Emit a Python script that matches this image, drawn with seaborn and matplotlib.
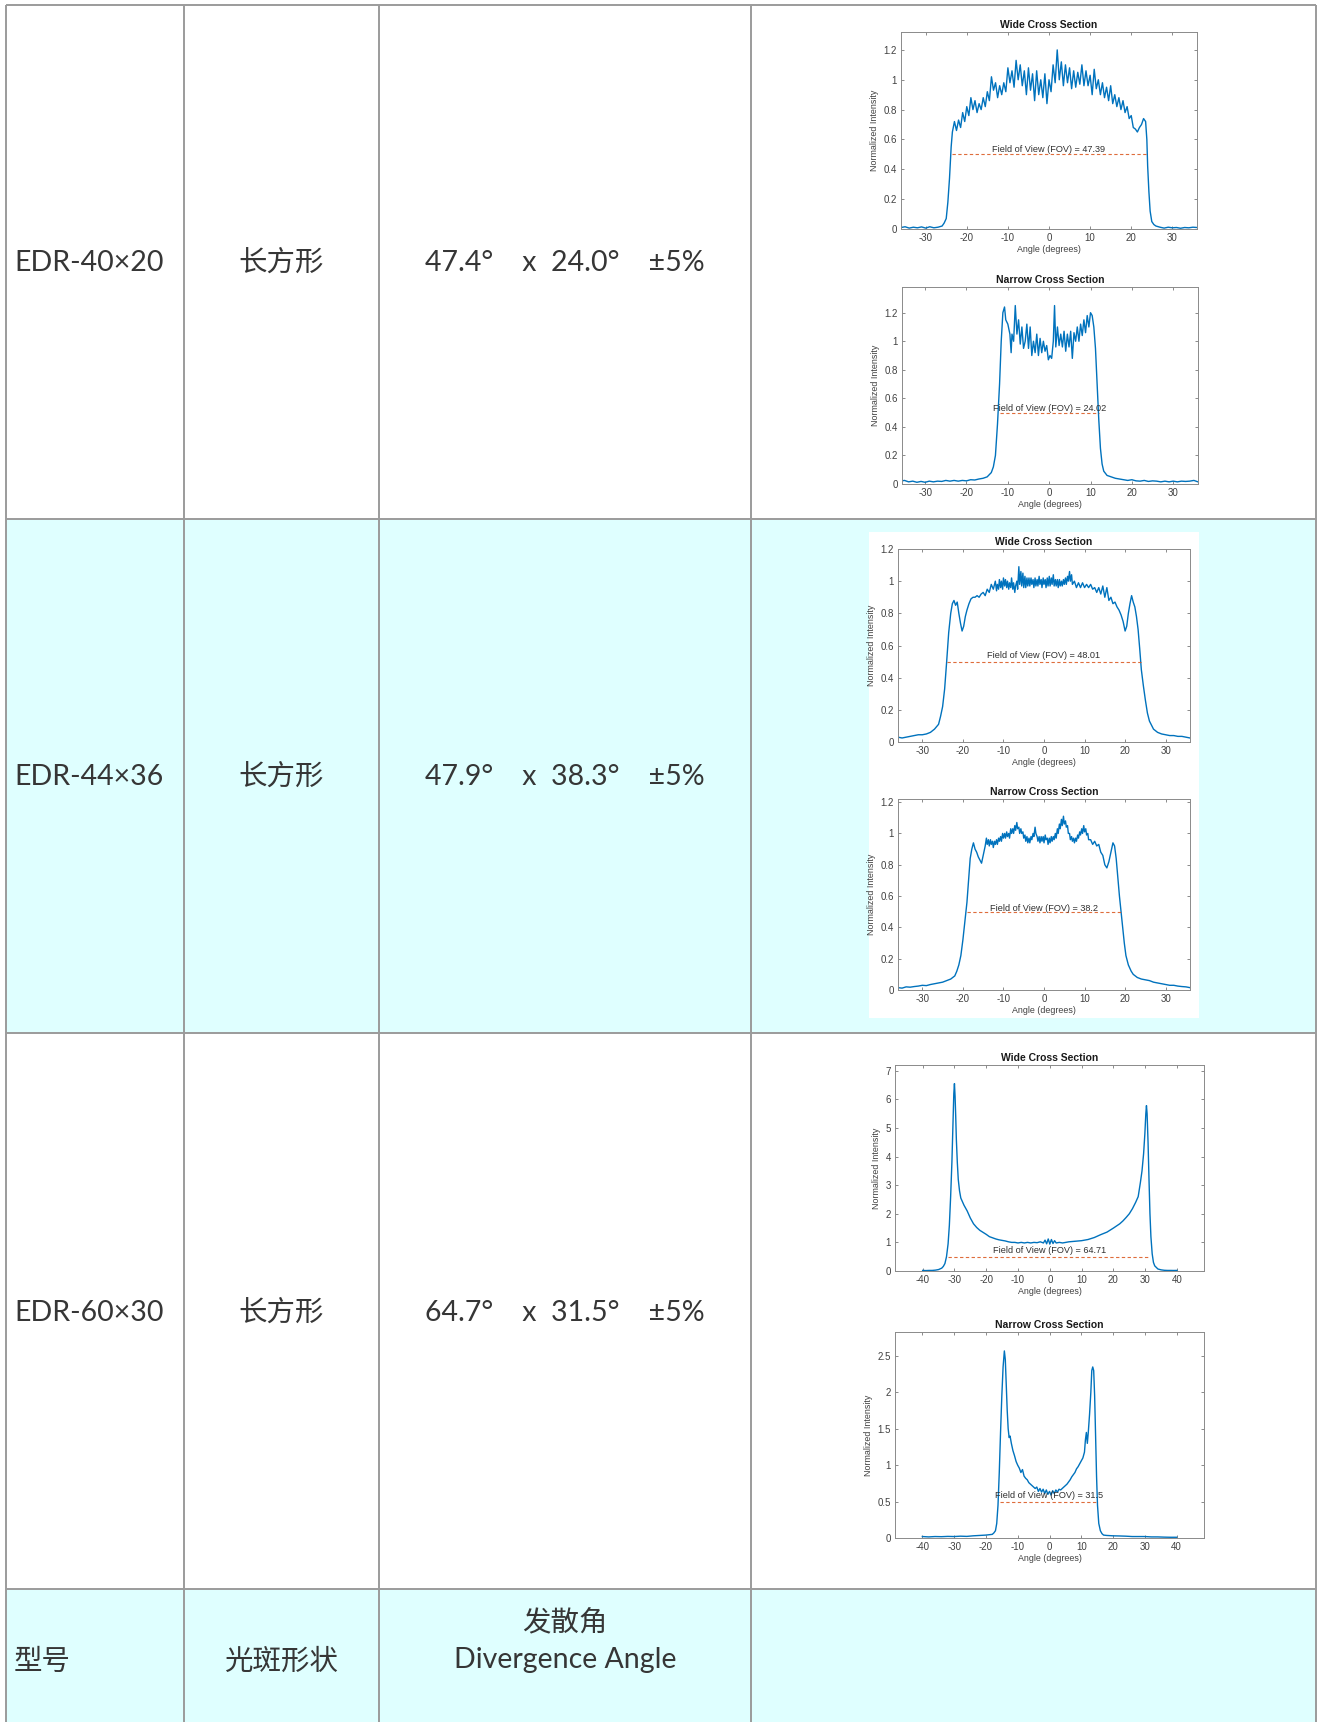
import matplotlib
matplotlib.use("Agg")
import matplotlib.pyplot as plt
from matplotlib.patches import Rectangle
from matplotlib.ticker import FuncFormatter
import seaborn as sns

# table text
models = ["EDR-40×20", "EDR-44×36", "EDR-60×30"]
shapes = ["长方形", "长方形", "长方形"]
angles = ["47.4°    x  24.0°    ±5%", "47.9°    x  38.3°    ±5%", "64.7°    x  31.5°    ±5%"]
header = ["型号", "光斑形状", "发散角", "Divergence Angle"]

# plot annotations
titles = ["Wide Cross Section", "Narrow Cross Section"] * 3
fov_values = ["47.39", "24.02", "48.01", "38.2", "64.71", "31.5"]
fov_edges = [(-23.7, 23.7), (-12.0, 12.0), (-24.0, 23.9), (-19.0, 19.2), (-32.0, 31.3), (-15.7, 15.2)]

# profiles: (angle, normalized intensity)
wide_a = [(-36, .010), (-35, .015), (-34, .006), (-33, .012), (-32, .008), (-31, .014), (-30, .006), (-29, .015),
          (-28, .008), (-27, .012), (-26, .02), (-25.5, .04), (-25, .07), (-24.6, .18), (-24.2, .34), (-23.8, .55),
          (-23.5, .65), (-23, .72), (-22.5, .66), (-22, .73), (-21.5, .68), (-21, .78), (-20.5, .72), (-20, .82),
          (-19.5, .76), (-19, .88), (-18.5, .80), (-18, .86), (-17.5, .78), (-17, .84), (-16.5, .80), (-16, .88),
          (-15.5, .82), (-15, .92), (-14.5, .86), (-14, 1.02), (-13.5, .93), (-13, .98), (-12.5, .88), (-12, .96),
          (-11.5, .90), (-11, .98), (-10.5, .92), (-10, 1.08), (-9.5, .98), (-9, 1.06), (-8.5, .95), (-8, 1.13),
          (-7.5, 1.00), (-7, 1.10), (-6.5, .96), (-6, 1.06), (-5.5, .90), (-5, 1.08), (-4.5, .93), (-4, 1.04),
          (-3.5, .86), (-3, 1.06), (-2.5, .90), (-2, 1.00), (-1.5, .88), (-1, 1.04), (-0.5, .84), (0, 1.00),
          (0.5, .92), (1, 1.10), (1.5, .98), (2, 1.20), (2.5, 1.00), (3, 1.12), (3.5, .96), (4, 1.10), (4.5, .98),
          (5, 1.08), (5.5, .94), (6, 1.06), (6.5, .95), (7, 1.05), (7.5, .97), (8, 1.10), (8.5, .96), (9, 1.06),
          (9.5, .96), (10, 1.03), (10.5, .90), (11, 1.07), (11.5, .94), (12, 1.00), (12.5, .90), (13, .98),
          (13.5, .88), (14, .95), (14.5, .86), (15, .96), (15.5, .84), (16, .90), (16.5, .82), (17, .88),
          (17.5, .80), (18, .86), (18.5, .78), (19, .82), (19.5, .74), (20, .76), (20.5, .68), (21, .67),
          (21.5, .65), (22, .68), (22.5, .70), (23, .74), (23.5, .72), (23.8, .60), (24, .42), (24.3, .25),
          (24.6, .12), (25, .05), (25.5, .03), (26, .02), (27, .012), (28, .006), (29, .012), (30, .008),
          (31, .010), (32, .005), (33, .010), (34, .008), (35, .012), (36, .010)]

narrow_a = [(-36, .02), (-35, .025), (-34, .015), (-33, .02), (-32, .012), (-31, .018), (-30, .012), (-29, .02),
            (-28, .015), (-27, .02), (-26, .018), (-25, .025), (-24, .02), (-23, .025), (-22, .02), (-21, .025),
            (-20, .022), (-19, .03), (-18, .028), (-17, .035), (-16, .04), (-15, .05), (-14, .08), (-13.5, .12),
            (-13, .2), (-12.5, .42), (-12, .7), (-11.6, 1.0), (-11.2, 1.2), (-10.8, 1.24), (-10.5, 1.15),
            (-10, 1.12), (-9.5, 1.05), (-9.2, .92), (-9, 1.05), (-8.6, 1.0), (-8.2, 1.25), (-7.8, 1.05),
            (-7.4, 1.15), (-7, .98), (-6.6, 1.1), (-6.2, .95), (-5.8, 1.0), (-5.4, 1.12), (-5, .95), (-4.6, 1.1),
            (-4.2, .9), (-3.8, 1.0), (-3.4, .92), (-3, 1.05), (-2.6, .9), (-2.2, 1.02), (-1.8, .92), (-1.4, 1.0),
            (-1, .93), (-0.6, .97), (-0.2, .87), (0.2, .9), (0.6, .88), (1, 1.0), (1.3, 1.25), (1.6, .96),
            (2, 1.1), (2.4, .97), (2.8, 1.05), (3.2, .96), (3.6, 1.07), (4, .93), (4.4, 1.05), (4.8, .96),
            (5.2, 1.07), (5.6, .88), (6, 1.06), (6.4, 1.0), (6.8, 1.1), (7.2, 1.0), (7.6, 1.12), (8, 1.04),
            (8.4, 1.15), (8.8, 1.06), (9.2, 1.18), (9.6, 1.1), (10, 1.2), (10.4, 1.18), (10.8, 1.1), (11.2, .95),
            (11.6, .7), (12, .45), (12.4, .25), (12.8, .14), (13.2, .09), (14, .06), (15, .05), (16, .04),
            (17, .035), (18, .03), (19, .025), (20, .03), (21, .022), (22, .02), (23, .025), (24, .018),
            (25, .022), (26, .02), (27, .015), (28, .02), (29, .015), (30, .02), (31, .015), (32, .02),
            (33, .018), (34, .02), (35, .025), (36, .015)]

wide_b = [(-36, .03), (-35, .025), (-34, .03), (-33, .035), (-32, .04), (-31, .045), (-30, .045), (-29, .05),
          (-28, .06), (-27, .08), (-26, .11), (-25.5, .16), (-25, .22), (-24.5, .33), (-24, .5), (-23.5, .68),
          (-23, .8), (-22.6, .86), (-22.2, .88), (-21.8, .85), (-21.4, .87), (-21, .8), (-20.6, .74),
          (-20.2, .69), (-19.8, .72), (-19.4, .78), (-19, .82), (-18.5, .86), (-18, .89), (-17.5, .9), (-17, .9),
          (-16.5, .91), (-16, .9), (-15.5, .92), (-15, .93), (-14.5, .91), (-14, .95), (-13.5, .93), (-13, .98),
          (-12.5, .95), (-12, 1.0), (-11.7, .94), (-11.5, .98), (-11.2, .95), (-11, 1.01), (-10.7, .96),
          (-10.5, 1.0), (-10.2, .95), (-10, 1.02), (-9.7, .97), (-9.5, 1.01), (-9.2, .96), (-9, 1.0),
          (-8.7, .95), (-8.5, .99), (-8.2, .96), (-8, 1.02), (-7.7, .95), (-7.5, .99), (-7.2, .93), (-7, .97),
          (-6.7, 1.0), (-6.5, .95), (-6.2, 1.09), (-6, .98), (-5.7, 1.06), (-5.5, .97), (-5.2, 1.05),
          (-5, .96), (-4.7, 1.03), (-4.5, .96), (-4.2, 1.02), (-4, .97), (-3.7, 1.02), (-3.5, .97),
          (-3.2, 1.02), (-3, .98), (-2.7, 1.01), (-2.5, .96), (-2.2, 1.02), (-2, .97), (-1.7, 1.01),
          (-1.5, .97), (-1.2, 1.03), (-1, .98), (-0.7, 1.01), (-0.5, .96), (-0.2, 1.02), (0, .98), (0.3, 1.01),
          (0.5, .96), (0.8, 1.02), (1, .97), (1.3, 1.03), (1.5, .97), (1.8, 1.02), (2, .98), (2.3, 1.04),
          (2.5, .97), (2.8, 1.01), (3, .97), (3.3, 1.01), (3.5, .96), (3.8, 1.01), (4, .97), (4.3, 1.0),
          (4.5, .97), (4.8, 1.01), (5, .98), (5.3, 1.02), (5.5, .98), (5.8, 1.03), (6, 1.0), (6.3, 1.06),
          (6.5, 1.0), (6.8, 1.04), (7, .98), (7.5, 1.0), (8, .96), (8.5, .99), (9, .96), (9.5, .99),
          (10, .96), (10.5, .98), (11, .96), (11.5, .98), (12, .95), (12.5, .96), (13, .93), (13.5, .96),
          (14, .92), (14.5, .97), (15, .9), (15.5, .96), (16, .88), (16.5, .9), (17, .86), (17.5, .87),
          (18, .84), (18.5, .82), (19, .79), (19.5, .75), (20, .69), (20.4, .72), (20.8, .8), (21.2, .86),
          (21.6, .91), (22, .87), (22.4, .84), (22.8, .78), (23.2, .7), (23.6, .58), (24, .45), (24.5, .35),
          (25, .26), (25.5, .18), (26, .13), (27, .08), (28, .06), (29, .05), (30, .045), (31, .04), (32, .04),
          (33, .035), (34, .035), (35, .03), (36, .025)]

narrow_b = [(-36, .015), (-35, .012), (-34, .02), (-33, .018), (-32, .022), (-31, .025), (-30, .03), (-29, .028),
            (-28, .035), (-27, .04), (-26, .045), (-25, .05), (-24, .06), (-23, .07), (-22, .09), (-21.5, .12),
            (-21, .16), (-20.5, .22), (-20, .32), (-19.5, .44), (-19, .56), (-18.6, .7), (-18.2, .84),
            (-17.8, .9), (-17.4, .94), (-17, .9), (-16.6, .88), (-16.2, .85), (-15.8, .83), (-15.4, .81),
            (-15, .86), (-14.5, .92), (-14.2, .97), (-14, .93), (-13.7, .96), (-13.5, .92), (-13.2, .96),
            (-13, .93), (-12.7, .95), (-12.5, .91), (-12.2, .95), (-12, .93), (-11.7, .96), (-11.5, .93),
            (-11.2, .97), (-11, .95), (-10.7, .98), (-10.5, .95), (-10.2, 1.0), (-10, .97), (-9.7, 1.0),
            (-9.5, .97), (-9.2, 1.01), (-9, .98), (-8.7, 1.0), (-8.5, .97), (-8.2, 1.03), (-8, 1.0), (-7.7, 1.03),
            (-7.5, 1.0), (-7.2, 1.05), (-7, 1.02), (-6.7, 1.07), (-6.5, 1.03), (-6.2, 1.04), (-6, 1.0),
            (-5.7, 1.03), (-5.5, 1.0), (-5.2, 1.01), (-5, .97), (-4.7, .99), (-4.5, .95), (-4.2, .98),
            (-4, .94), (-3.7, .97), (-3.5, .94), (-3.2, .98), (-3, .96), (-2.7, 1.0), (-2.5, .98), (-2.2, 1.04),
            (-2, 1.0), (-1.7, .98), (-1.5, .95), (-1.2, .98), (-1, .94), (-0.7, .98), (-0.5, .95), (-0.2, .98),
            (0, .94), (0.3, .99), (0.5, .96), (0.8, .97), (1, .93), (1.3, .97), (1.5, .94), (1.8, .98), (2, .95),
            (2.3, .98), (2.5, .96), (2.8, 1.0), (3, .97), (3.3, 1.03), (3.5, 1.0), (3.8, 1.06), (4, 1.03),
            (4.3, 1.09), (4.5, 1.05), (4.8, 1.11), (5, 1.06), (5.3, 1.08), (5.5, 1.04), (5.8, 1.05), (6, 1.0),
            (6.3, 1.0), (6.5, .96), (6.8, .98), (7, .95), (7.3, .97), (7.5, .94), (7.8, .97), (8, .95),
            (8.3, .99), (8.5, .97), (8.8, 1.01), (9, .99), (9.3, 1.03), (9.5, 1.0), (9.8, 1.05), (10, 1.01),
            (10.3, 1.03), (10.5, .99), (10.8, 1.0), (11, .96), (11.5, .96), (12, .93), (12.5, .95), (13, .92),
            (13.5, .93), (14, .88), (14.5, .86), (15, .8), (15.5, .78), (16, .82), (16.5, .88), (17, .94),
            (17.4, .92), (17.8, .84), (18.2, .72), (18.6, .6), (19, .5), (19.4, .4), (19.8, .3), (20.2, .22),
            (20.8, .16), (21.5, .12), (22, .1), (23, .08), (24, .07), (25, .065), (26, .06), (27, .05),
            (28, .045), (29, .04), (30, .035), (31, .03), (32, .03), (33, .025), (34, .022), (35, .02), (36, .015)]

wide_c = [(-40, .02), (-39, .015), (-38, .02), (-37, .02), (-36, .03), (-35, .05), (-34, .1), (-33.5, .16),
          (-33, .26), (-32.5, .5), (-32, .95), (-31.6, 1.6), (-31.2, 2.6), (-30.8, 3.8), (-30.5, 5.0),
          (-30.2, 6.2), (-30, 6.55), (-29.8, 6.1), (-29.6, 5.4), (-29.4, 4.6), (-29.1, 3.8), (-28.8, 3.2),
          (-28.4, 2.8), (-28, 2.55), (-27, 2.3), (-26, 2.1), (-25, 1.85), (-24, 1.65), (-23, 1.52), (-22, 1.42),
          (-21, 1.35), (-20, 1.28), (-19, 1.2), (-18, 1.16), (-17, 1.12), (-16, 1.09), (-15, 1.07), (-14, 1.05),
          (-13, 1.02), (-12, 1.0), (-11, 1.0), (-10, .98), (-9, 1.0), (-8, .98), (-7, 1.0), (-6, .98), (-5, 1.0),
          (-4, .99), (-3, 1.02), (-2, .98), (-1.5, 1.08), (-1, .95), (-0.5, 1.12), (0, .94), (0.5, 1.1),
          (1, .96), (1.5, 1.06), (2, .98), (3, 1.0), (4, .98), (5, 1.0), (6, 1.02), (7, 1.03), (8, 1.04),
          (9, 1.05), (10, 1.06), (12, 1.1), (14, 1.17), (16, 1.27), (18, 1.36), (20, 1.5), (22, 1.65),
          (23, 1.75), (24, 1.87), (25, 2.0), (26, 2.18), (27, 2.4), (27.8, 2.6), (28.5, 3.1), (29, 3.5),
          (29.5, 4.1), (29.9, 4.8), (30.2, 5.5), (30.4, 5.78), (30.6, 5.5), (30.9, 4.5), (31.2, 3.2),
          (31.5, 2.0), (31.8, 1.2), (32.2, .6), (32.6, .3), (33, .18), (34, .07), (35, .04), (36, .025),
          (37, .02), (38, .02), (39, .018), (40, .02)]

narrow_c = [(-40, .02), (-38, .015), (-36, .02), (-34, .018), (-32, .022), (-30, .02), (-28, .025), (-26, .022),
            (-24, .03), (-22, .035), (-20, .04), (-19, .045), (-18, .05), (-17.5, .07), (-17, .1), (-16.6, .2),
            (-16.2, .45), (-15.8, .9), (-15.4, 1.45), (-15, 1.95), (-14.6, 2.35), (-14.2, 2.57), (-13.9, 2.45),
            (-13.6, 2.1), (-13.3, 1.75), (-13, 1.5), (-12.7, 1.38), (-12.4, 1.4), (-12, 1.3), (-11.5, 1.2),
            (-11, 1.13), (-10.5, 1.05), (-10, 1.0), (-9.5, .96), (-9, .9), (-8.5, .94), (-8, .85), (-7.5, .82),
            (-7, .8), (-6.5, .76), (-6, .74), (-5.5, .72), (-5, .7), (-4.5, .68), (-4, .7), (-3.5, .64), (-3, .68),
            (-2.5, .63), (-2, .67), (-1.5, .61), (-1, .66), (-0.5, .6), (0, .64), (0.5, .59), (1, .65), (1.5, .61),
            (2, .66), (2.5, .63), (3, .67), (3.5, .66), (4, .68), (4.5, .7), (5, .72), (5.5, .74), (6, .77),
            (6.5, .8), (7, .84), (7.5, .87), (8, .9), (8.5, .95), (9, .98), (9.5, 1.02), (10, 1.06), (10.5, 1.1),
            (11, 1.18), (11.3, 1.35), (11.6, 1.45), (11.9, 1.3), (12.2, 1.45), (12.6, 1.7), (13, 2.0),
            (13.3, 2.3), (13.6, 2.35), (13.9, 2.3), (14.2, 1.95), (14.5, 1.4), (14.8, .85), (15.1, .45),
            (15.5, .2), (16, .1), (16.5, .06), (17, .04), (18, .035), (20, .03), (22, .028), (24, .025),
            (26, .02), (28, .02), (30, .02), (32, .015), (34, .015), (36, .012), (38, .01), (40, .01)]

profiles = [wide_a, narrow_a, wide_b, narrow_b, wide_c, narrow_c]

ticks_small = [0, 0.2, 0.4, 0.6, 0.8, 1, 1.2]
yticks = [ticks_small, ticks_small, ticks_small, ticks_small,
          [0, 1, 2, 3, 4, 5, 6, 7], [0, 0.5, 1, 1.5, 2, 2.5]]
xticks_a = [-30, -20, -10, 0, 10, 20, 30]
xticks_b = [-40, -30, -20, -10, 0, 10, 20, 30, 40]
xticks = [xticks_a] * 4 + [xticks_b] * 2

# ---- layout (pixels of the 1322x1722 page)
W, H = 1322, 1722
col_x = [6, 184, 379, 751, 1316]
row_y = [5, 519, 1033, 1589]
text_y = [263, 777, 1313]
panel_px = [(901, 32, 1197, 229), (902, 287, 1198, 484), (898, 549, 1190, 742),
            (898, 799, 1190, 990), (895, 1065, 1204, 1271), (895, 1332, 1204, 1538)]
xlims = [(-36, 36), (-35.6, 36), (-36, 36), (-36, 36), (-48.7, 48.5), (-48.6, 48.6)]
ylims = [(0, 1.32), (0, 1.38), (0, 1.2), (0, 1.22), (0, 7.2), (0, 2.83)]
fov_y = [0.535, 0.53, 0.54, 0.52, 0.7, 0.58]

LINE_BLUE = "#0072BD"
DASH_RED = "#D95319"
CYAN = "#DFFFFF"
GRID = "#9b9b9b"
TXT = "#363636"
table_font = ["Lato", "Noto Sans CJK SC"]

plt.rcParams["font.family"] = ["Liberation Sans", "DejaVu Sans"]
plt.rcParams["axes.unicode_minus"] = False

fig = plt.figure(figsize=(W / 100, H / 100), dpi=100)
fig.patch.set_facecolor("white")

bg = fig.add_axes([0, 0, 1, 1], zorder=0)
bg.set_xlim(0, W)
bg.set_ylim(H, 0)
bg.axis("off")

# shaded rows
bg.add_patch(Rectangle((col_x[0], row_y[1]), col_x[-1] - col_x[0], row_y[2] - row_y[1], color=CYAN, lw=0))
bg.add_patch(Rectangle((col_x[0], row_y[3]), col_x[-1] - col_x[0], H - row_y[3], color=CYAN, lw=0))
# white picture background in the shaded row
bg.add_patch(Rectangle((869, 532), 330, 486, color="white", lw=0))

for x in col_x:
    bg.plot([x, x], [row_y[0], H], color=GRID, lw=1.4, solid_capstyle="butt")
for y in row_y:
    bg.plot([col_x[0], col_x[-1]], [y, y], color=GRID, lw=1.4, solid_capstyle="butt")

c2 = (col_x[1] + col_x[2]) / 2
c3 = (col_x[2] + col_x[3]) / 2
tkw = dict(va="center", fontsize=20.5, family=table_font, color=TXT)
for i in range(3):
    bg.text(14, text_y[i], models[i], ha="left", **tkw)
    bg.text(c2, text_y[i], shapes[i], ha="center", **tkw)
    bg.text(c3, text_y[i], angles[i], ha="center", **tkw)

bg.text(14, 1662, header[0], ha="left", **tkw)
bg.text(c2, 1662, header[1], ha="center", **tkw)
bg.text(c3, 1623, header[2], ha="center", **tkw)
bg.text(c3, 1660, header[3], ha="center", **tkw)

fmt = FuncFormatter(lambda v, p: f"{v:g}")

for i, prof in enumerate(profiles):
    l, t, r, b = panel_px[i]
    ax = fig.add_axes([l / W, 1 - b / H, (r - l) / W, (b - t) / H], zorder=2)
    ax.set_facecolor("white")
    xs = [p[0] for p in prof]
    ys = [p[1] for p in prof]
    sns.lineplot(x=xs, y=ys, ax=ax, color=LINE_BLUE, linewidth=1.0, sort=False, estimator=None)

    x0, x1 = fov_edges[i]
    ax.plot([x0, x1], [0.5, 0.5], linestyle="--", dashes=(3, 2.2), color=DASH_RED, lw=0.8, alpha=0.85)
    ax.text(0, fov_y[i], f"Field of View (FOV) = {fov_values[i]}", ha="center", va="center",
            fontsize=6.6, color="#303030")

    ax.set_xlim(*xlims[i])
    ax.set_ylim(*ylims[i])
    ax.set_xticks(xticks[i])
    ax.set_yticks(yticks[i])
    ax.xaxis.set_major_formatter(fmt)
    ax.yaxis.set_major_formatter(fmt)
    ax.tick_params(direction="in", top=True, right=True, length=2.5, width=0.6,
                   color="#777777", labelcolor="#404040", labelsize=7, pad=3)
    for s in ax.spines.values():
        s.set_color("#8a8a8a")
        s.set_linewidth(0.7)
    ax.set_title(titles[i], fontsize=7.5, fontweight="bold", color="#1a1a1a", pad=3)
    ax.set_xlabel("Angle (degrees)", fontsize=6.4, color="#404040", labelpad=1.5)
    ax.set_ylabel("Normalized Intensity", fontsize=6.4, color="#404040", labelpad=3)

fig.savefig("out.png", dpi=100)
